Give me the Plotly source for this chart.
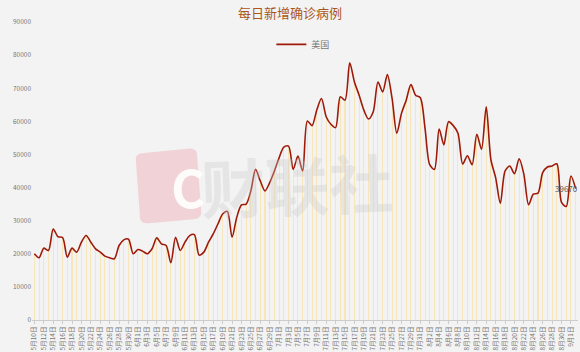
import datetime as dt
import plotly.graph_objects as go

start = dt.date(2020, 5, 10)
values = [
    20000, 18800, 21700, 21000, 27500, 25200, 24900, 19000, 21700, 20500,
    23500, 25500, 23500, 21500, 20500, 19300, 18800, 18500, 22500, 24200,
    24400, 20000, 21300, 20800, 20000, 21500, 24800, 23000, 22500, 17300,
    25000, 21000, 23500, 25500, 25800, 19600, 20500, 23500, 26000, 29000,
    32000, 32800, 25000, 31000, 34800, 35000, 39000, 45500, 42000, 39000,
    41500, 45000, 49000, 52200, 52500, 45500, 49500, 45000, 60100, 58700,
    63400, 66900, 61400, 59100, 58100, 67400, 66400, 77700, 71900, 67900,
    63400, 60700, 62900, 71900, 68900, 74100, 66900, 56400, 62400, 66400,
    71100, 67900, 67100, 57900, 46900, 45500, 57700, 52900, 59900, 58700,
    56400, 47100, 49600, 46900, 56100, 51600, 64400, 48400, 43000, 35200,
    45000, 46500, 44200, 48700, 44000, 34800, 38000, 38300, 44500, 46200,
    46500, 47200, 35500, 34300, 43500, 39670,
]
dates = [f"{(start + dt.timedelta(days=i)).month}月{(start + dt.timedelta(days=i)).day}日"
         for i in range(len(values))]
tick_labels = dates[::2]
y_ticks = [0, 10000, 20000, 30000, 40000, 50000, 60000, 70000, 80000, 90000]

FONT = "Noto Sans CJK SC"
fig = go.Figure()
fig.add_trace(go.Bar(
    x=dates, y=values, width=0.22,
    marker=dict(color="rgba(250,222,150,0.6)", line=dict(width=0)),
    showlegend=False, hoverinfo="skip",
))
fig.add_trace(go.Scatter(
    x=dates, y=values, mode="lines", name="美国",
    line=dict(color="#9e1a08", width=1.6, shape="spline", smoothing=0.8),
))

# watermark
fig.add_shape(type="path", xref="paper", yref="paper", layer="below",
              path="M 0.205 0.56 L 0.285 0.575 Q 0.30 0.578 0.302 0.56 L 0.31 0.36 Q 0.31 0.34 0.295 0.338 "
                   "L 0.215 0.325 Q 0.2 0.323 0.198 0.34 L 0.19 0.54 Q 0.19 0.558 0.205 0.56 Z",
              fillcolor="rgba(240,180,188,0.5)", line=dict(width=0))
fig.add_annotation(text="<b>C</b>", xref="paper", yref="paper", x=0.25, y=0.45,
                   showarrow=False, font=dict(family=FONT, size=52, color="rgba(255,255,255,0.9)"))
fig.add_annotation(text="<b>财联社</b>", xref="paper", yref="paper", x=0.485, y=0.46,
                   showarrow=False, textangle=-2,
                   font=dict(family=FONT, size=64, color="rgba(200,200,200,0.33)"))

fig.add_annotation(x=dates[-1], y=values[-1], text=f"{values[-1]}", showarrow=False,
                   xanchor="right", xshift=4, yshift=0,
                   font=dict(family=FONT, size=8, color="#555"))

fig.update_layout(
    width=580, height=352,
    margin=dict(l=32, r=2, t=22, b=28),
    paper_bgcolor="#f3f3f3", plot_bgcolor="#f3f3f3",
    title=dict(text="每日新增确诊病例", x=0.5, xanchor="center", y=0.975, yanchor="top",
               font=dict(family=FONT, size=13, color="#a9561a")),
    legend=dict(orientation="h", x=0.497, xanchor="center", y=0.925, yanchor="middle",
                bgcolor="rgba(0,0,0,0)", font=dict(family=FONT, size=9, color="#777"),
                itemwidth=30),
    bargap=0,
    showlegend=True,
)
fig.update_xaxes(
    type="category", range=[-0.5, len(values) - 0.5],
    tickmode="array", tickvals=tick_labels, ticktext=tick_labels,
    tickangle=-90, tickfont=dict(family=FONT, size=6.5, color="#777"),
    showgrid=False, showline=True, linecolor="#cccccc", linewidth=1,
    ticks="outside", ticklen=3, tickcolor="#cccccc",
)
fig.update_yaxes(
    range=[0, 90000], tickvals=y_ticks, ticktext=[str(v) for v in y_ticks],
    tickfont=dict(family=FONT, size=6.5, color="#777"),
    showgrid=False, zeroline=False, showline=False, ticks="",
)
fig.write_html("out.html")
